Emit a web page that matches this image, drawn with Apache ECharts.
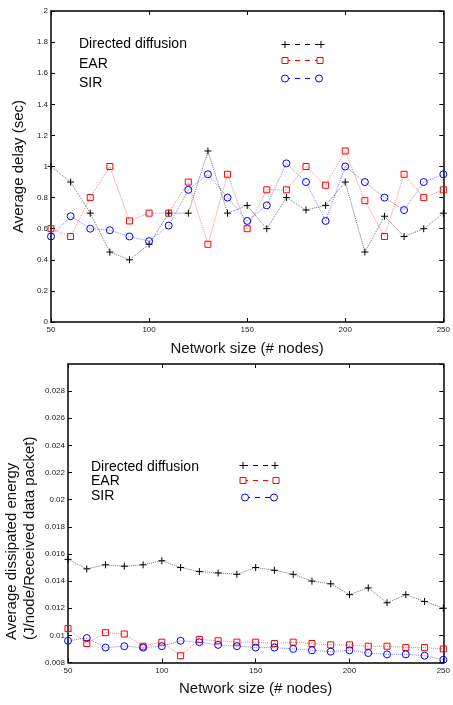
<!DOCTYPE html>
<html>
<head>
<meta charset="utf-8">
<script src="https://cdn.jsdelivr.net/npm/echarts@6/dist/echarts.min.js"></script>
<style>
html,body{margin:0;padding:0;background:#fff;}
#chart{width:453px;height:705px;}
</style>
</head>
<body>
<div id="chart"></div>
<script>
// ---- data ----
var nodes = [50, 60, 70, 80, 90, 100, 110, 120, 130, 140, 150, 160, 170, 180, 190, 200, 210, 220, 230, 240, 250];

var delayDD  = [1.00, 0.90, 0.70, 0.45, 0.40, 0.50, 0.70, 0.70, 1.10, 0.70, 0.75, 0.60, 0.80, 0.72, 0.75, 0.90, 0.45, 0.68, 0.55, 0.60, 0.70];
var delayEAR = [0.60, 0.55, 0.80, 1.00, 0.65, 0.70, 0.70, 0.90, 0.50, 0.95, 0.60, 0.85, 0.85, 1.00, 0.88, 1.10, 0.78, 0.55, 0.95, 0.80, 0.85];
var delaySIR = [0.55, 0.68, 0.60, 0.59, 0.55, 0.52, 0.62, 0.85, 0.95, 0.80, 0.65, 0.75, 1.02, 0.90, 0.65, 1.00, 0.90, 0.80, 0.72, 0.90, 0.95];

var energyDD  = [0.0156, 0.0149, 0.0152, 0.0151, 0.0152, 0.0155, 0.0150, 0.0147, 0.0146, 0.0145, 0.0150, 0.0148, 0.0145, 0.0140, 0.0138, 0.0130, 0.0135, 0.0124, 0.0130, 0.0125, 0.0120];
var energyEAR = [0.0105, 0.0094, 0.0102, 0.0101, 0.0092, 0.0095, 0.0085, 0.0097, 0.0096, 0.0095, 0.0095, 0.0094, 0.0095, 0.0094, 0.0093, 0.0093, 0.0092, 0.0092, 0.0091, 0.0091, 0.0090];
var energySIR = [0.0096, 0.0098, 0.0091, 0.0092, 0.0091, 0.0092, 0.0096, 0.0095, 0.0093, 0.0092, 0.0091, 0.0091, 0.0090, 0.0089, 0.0088, 0.0089, 0.0087, 0.0086, 0.0086, 0.0085, 0.0082];

var seriesNames = ['Directed diffusion', 'EAR', 'SIR'];
var xTitle = 'Network size (# nodes)';
var yTitleTop = 'Average delay (sec)';
var yTitleBottom = ['Average dissipated energy', '(J/node/Received data packet)'];

// ---- styles ----
var FONT = '"Liberation Sans", Arial, Helvetica, sans-serif';
var C_DD = '#000000', C_EAR = '#ff0000', C_SIR = '#0000ff';
var LINE_DD = 'rgba(0,0,0,0.55)', LINE_EAR = 'rgba(255,0,0,0.5)', LINE_SIR = 'rgba(0,0,255,0.5)';
var PLUS = 'path://M5,0L5,10M0,5L10,5';

function pairs(arr) { return nodes.map(function (x, i) { return [x, arr[i]]; }); }

function mkSeries(name, arr, xi, yi, kind) {
  var s = {
    name: name, type: 'line', xAxisIndex: xi, yAxisIndex: yi,
    data: pairs(arr), silent: true, animation: false,
    lineStyle: { type: 'dotted', width: 1 }
  };
  if (kind === 'dd') {
    s.symbol = PLUS; s.symbolSize = 7; s.showAllSymbol = true;
    s.itemStyle = { color: 'none', borderColor: C_DD, borderWidth: 1 };
    s.lineStyle.color = LINE_DD;
  } else if (kind === 'ear') {
    s.symbol = 'rect'; s.symbolSize = 6; s.showAllSymbol = true;
    s.itemStyle = { color: 'rgba(255,255,255,0)', borderColor: C_EAR, borderWidth: 1 };
    s.lineStyle.color = LINE_EAR;
  } else {
    s.symbol = 'circle'; s.symbolSize = 7; s.showAllSymbol = true;
    s.itemStyle = { color: 'rgba(255,255,255,0)', borderColor: C_SIR, borderWidth: 1 };
    s.lineStyle.color = LINE_SIR;
  }
  return s;
}

var axisLine = { show: true, onZero: false, lineStyle: { color: '#000', width: 1.5 } };
var tickIn = { show: true, inside: true, length: 4, lineStyle: { color: '#000', width: 1 } };
var lblStyle = { fontFamily: FONT, fontSize: 8, color: '#222' };

function xMain(gi) {
  return {
    type: 'value', gridIndex: gi, position: 'bottom', min: 50, max: 250, interval: 50,
    axisLine: axisLine, axisTick: tickIn, splitLine: { show: false },
    axisLabel: Object.assign({ margin: 4 }, lblStyle),
    name: xTitle, nameLocation: 'middle', nameGap: 19,
    nameTextStyle: { fontFamily: FONT, fontSize: 15, color: '#111' }
  };
}
function xMirror(gi) {
  return {
    type: 'value', gridIndex: gi, position: 'top', min: 50, max: 250, interval: 50,
    axisLine: axisLine, axisTick: tickIn, splitLine: { show: false }, axisLabel: { show: false }
  };
}
function yMain(gi, min, max, step, digits, showMax, name, gap) {
  var y = {
    type: 'value', gridIndex: gi, position: 'left', min: min, max: max, interval: step,
    axisLine: axisLine, axisTick: tickIn, splitLine: { show: false },
    axisLabel: Object.assign({
      margin: 3, showMaxLabel: showMax,
      formatter: function (v) { return String(+v.toFixed(digits)); }
    }, lblStyle)
  };
  if (name) {
    y.name = name; y.nameLocation = 'middle'; y.nameGap = gap;
    y.nameTextStyle = { fontFamily: FONT, fontSize: 15, color: '#111' };
  }
  return y;
}
function yMirror(gi, min, max, step) {
  return {
    type: 'value', gridIndex: gi, position: 'right', min: min, max: max, interval: step,
    axisLine: axisLine, axisTick: tickIn, splitLine: { show: false }, axisLabel: { show: false }
  };
}

// legend drawn as graphic (Matlab style: text left, sample right)
function legendGroup(items) {
  var els = [];
  items.forEach(function (it) {
    els.push({ type: 'text', left: it.tx, top: it.ty - 8, silent: true,
      style: { text: it.name, font: '14px ' + FONT, fill: '#000' } });
    els.push({ type: 'line', silent: true,
      shape: { x1: it.x1, y1: it.y, x2: it.x2, y2: it.y },
      style: { stroke: it.color, lineWidth: 1, lineDash: [5, 5] } });
    [it.x1, it.x2].forEach(function (mx) {
      if (it.kind === 'dd') {
        els.push({ type: 'line', silent: true, shape: { x1: mx - 3.5, y1: it.y, x2: mx + 3.5, y2: it.y }, style: { stroke: it.color, lineWidth: 1 } });
        els.push({ type: 'line', silent: true, shape: { x1: mx, y1: it.y - 3.5, x2: mx, y2: it.y + 3.5 }, style: { stroke: it.color, lineWidth: 1 } });
      } else if (it.kind === 'ear') {
        els.push({ type: 'rect', silent: true, shape: { x: mx - 3, y: it.y - 3, width: 6, height: 6 }, style: { fill: '#fff', stroke: it.color, lineWidth: 1 } });
      } else {
        els.push({ type: 'circle', silent: true, shape: { cx: mx, cy: it.y, r: 3.5 }, style: { fill: '#fff', stroke: it.color, lineWidth: 1 } });
      }
    });
  });
  return els;
}

var graphics = []
  .concat(legendGroup([
    { name: seriesNames[0], tx: 79, ty: 45, x1: 285, x2: 321, y: 44.5, color: C_DD, kind: 'dd' },
    { name: seriesNames[1], tx: 79, ty: 65, x1: 285, x2: 320, y: 60.5, color: C_EAR, kind: 'ear' },
    { name: seriesNames[2], tx: 79, ty: 84, x1: 285, x2: 319, y: 78.5, color: C_SIR, kind: 'sir' }
  ]))
  .concat(legendGroup([
    { name: seriesNames[0], tx: 91, ty: 468, x1: 243, x2: 275, y: 465.5, color: C_DD, kind: 'dd' },
    { name: seriesNames[1], tx: 91, ty: 482, x1: 243, x2: 276, y: 480.5, color: C_EAR, kind: 'ear' },
    { name: seriesNames[2], tx: 91, ty: 497, x1: 245, x2: 274, y: 497.5, color: C_SIR, kind: 'sir' }
  ]))
  .concat([{
    type: 'text', x: 3, y: 640, rotation: Math.PI / 2, silent: true,
    style: { text: yTitleBottom.join('\n'), font: '15px ' + FONT, fill: '#111',
      lineHeight: 18, textAlign: 'left', textVerticalAlign: 'top' }
  }]);

var option = {
  backgroundColor: '#fff',
  animation: false,
  textStyle: { fontFamily: FONT },
  grid: [
    { left: 51, right: 6.5, top: 11, bottom: 383, containLabel: false },
    { left: 68, right: 6.5, top: 364, bottom: 42.5, containLabel: false }
  ],
  xAxis: [xMain(0), xMirror(0), xMain(1), xMirror(1)],
  yAxis: [
    yMain(0, 0, 2, 0.2, 1, true, yTitleTop, 25),
    yMirror(0, 0, 2, 0.2),
    yMain(1, 0.008, 0.03, 0.002, 3, false, null, 0),
    yMirror(1, 0.008, 0.03, 0.002)
  ],
  series: [
    mkSeries(seriesNames[0], delayDD, 0, 0, 'dd'),
    mkSeries(seriesNames[1], delayEAR, 0, 0, 'ear'),
    mkSeries(seriesNames[2], delaySIR, 0, 0, 'sir'),
    mkSeries(seriesNames[0], energyDD, 2, 2, 'dd'),
    mkSeries(seriesNames[1], energyEAR, 2, 2, 'ear'),
    mkSeries(seriesNames[2], energySIR, 2, 2, 'sir')
  ],
  graphic: graphics
};

var chart = echarts.init(document.getElementById('chart'), null, { renderer: 'canvas' });
chart.setOption(option);
</script>
</body>
</html>
